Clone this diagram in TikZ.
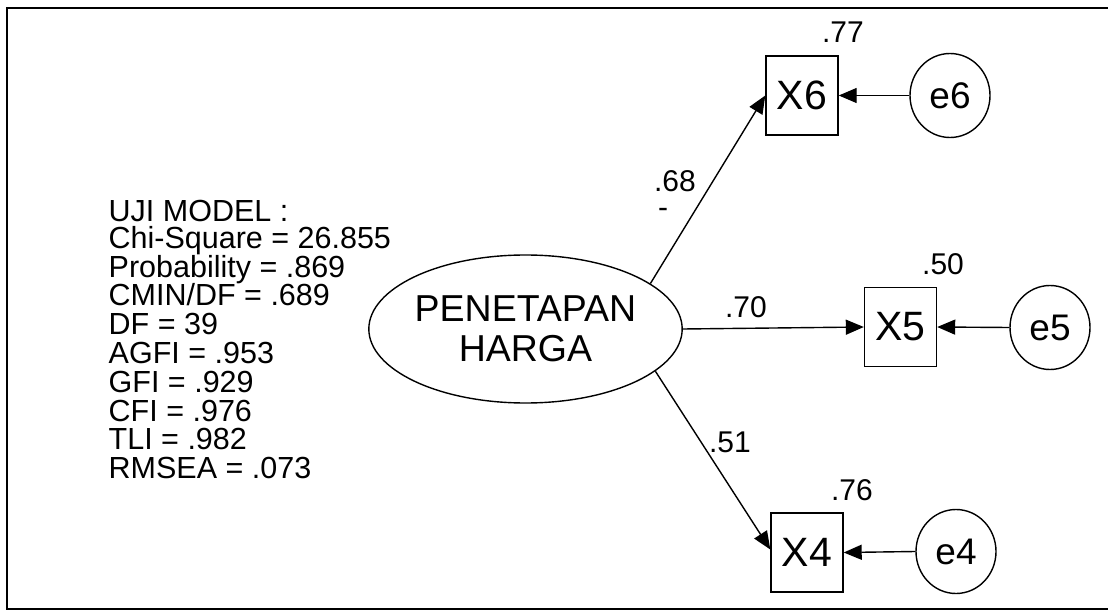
\documentclass[tikz,border=0pt]{standalone}
\usepackage{fontspec}
\setmainfont{Liberation Sans}
\usetikzlibrary{arrows.meta,shapes.geometric}
\begin{document}
\begin{tikzpicture}[x=1pt,y=-1pt,
  line width=1.4pt,
  obs/.style={draw, minimum width=72pt, minimum height=79pt, inner sep=0pt,
    font=\fontsize{41pt}{41pt}\selectfont},
  err/.style={draw, ellipse, minimum width=80pt, minimum height=84pt, inner sep=0pt,
    font=\fontsize{37pt}{37pt}\selectfont},
  lat/.style={draw, ellipse, minimum width=265pt, minimum height=148pt, inner sep=0pt,
    align=center, font=\fontsize{37.5pt}{40pt}\selectfont},
  coef/.style={inner sep=0pt, font=\fontsize{30pt}{30pt}\selectfont},
  stat/.style={anchor=base west, inner sep=0pt, font=\fontsize{30.5pt}{30pt}\selectfont},
  conn/.style={-{Triangle[length=18pt,width=15pt]}, line width=1.4pt}
]
\useasboundingbox (0,0) rectangle (1108,612);
% frame
\draw[line width=2.5pt] (1108,8) -- (7,8) -- (7,609) -- (1108,609);

% statistics block
\node[stat] (s0) at (108,222) {UJI MODEL :};
\foreach \t [count=\i from 1] in {Chi-Square = 26.855,Probability = .869,CMIN/DF = .689,DF = 39,AGFI = .953,GFI = .929,CFI = .976,TLI = .982,RMSEA = .073}
  \node[stat] (s\i) at (108,{248.3+28.8*(\i-1)}) {\t};

% latent variable
\node[lat] (el) at (525.5,329) {PENETAPAN\\HARGA};

% observed variables
\node[obs] (X6) at (802,95.5) {X6};
\node[obs] (X5) at (900.5,327) {X5};
\node[obs] (X4) at (807,552.5) {X4};

% error terms
\node[err] (e6) at (950,95.5) {e6};
\node[err] (e5) at (1050,327.5) {e5};
\node[err] (e4) at (956,551.5) {e4};

% paths
\draw[conn] (el.20.5) -- (X6.west);
\draw[conn] (el.east) -- (X5.west);
\draw[conn] (el.-18.8) -- ([yshift=3pt]X4.west);
\draw[conn] (e6.west) -- (X6.east);
\draw[conn] (e5.west) -- (X5.east);
\draw[conn] (e4.west) -- (X4.east);

% coefficients
\node[coef] (c68) at (675,181) {.68};
\node[coef, anchor=base] (dash) at (663,218) {-};
\node[coef] (c70) at (746,307) {.70};
\node[coef] (c51) at (730,442) {.51};
\node[coef] (r77) at (843,32) {.77};
\node[coef] (r50) at (943,264) {.50};
\node[coef] (r76) at (852,490) {.76};
\end{tikzpicture}
\end{document}
